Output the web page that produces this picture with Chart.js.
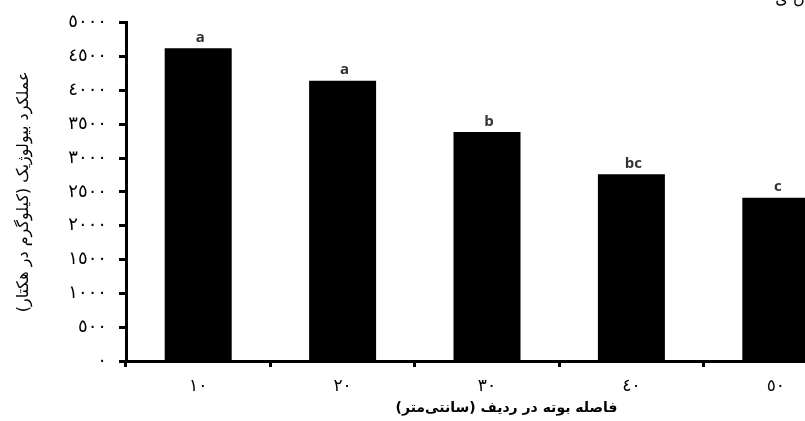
<!DOCTYPE html>
<html>
<head>
<meta charset="utf-8">
<script src="https://cdn.jsdelivr.net/npm/chart.js@4/dist/chart.umd.min.js"></script>
<style>
  html, body { margin: 0; padding: 0; background: #fff; overflow: hidden; width: 805px; height: 421px; }
  #wrap { position: absolute; left: 0; top: 0; width: 848px; height: 421px; }
</style>
</head>
<body>
<div id="wrap"><canvas id="c"></canvas></div>
<script>
// ---- data ----
const categories = ['١٠', '٢٠', '٣٠', '٤٠', '٥٠'];
const yieldValues = [4625, 4145, 3385, 2760, 2415];
const letters = ['a', 'a', 'b', 'bc', 'c'];
const yTickLabels = ['٠', '٥٠٠', '١٠٠٠', '١٥٠٠', '٢٠٠٠', '٢٥٠٠', '٣٠٠٠', '٣٥٠٠', '٤٠٠٠', '٤٥٠٠', '٥٠٠٠'];
const xTitle = '\u00A0\u00A0\u00A0\u00A0\u00A0\u00A0\u00A0\u00A0فاصله بوته در ردیف (سانتی‌متر)';
const yTitle = 'عملکرد بیولوژیک (کیلوگرم در هکتار)';
const cornerText = 'ن ی';

const letterPlugin = {
  id: 'letters',
  afterDatasetsDraw(chart) {
    const ctx = chart.ctx;
    const meta = chart.getDatasetMeta(0);
    ctx.save();
    ctx.font = 'bold 15px "Open Sans", "DejaVu Sans", sans-serif';
    ctx.fillStyle = '#333';
    ctx.textAlign = 'center';
    ctx.textBaseline = 'bottom';
    meta.data.forEach((bar, i) => {
      ctx.fillText(letters[i], bar.x + 2, bar.y - 3);
    });
    ctx.font = '16px "DejaVu Sans", sans-serif';
    ctx.fillStyle = '#000';
    ctx.textBaseline = 'middle';
    ctx.fillText(cornerText, 790, 0);
    ctx.restore();
  }
};

new Chart(document.getElementById('c'), {
  type: 'bar',
  data: {
    labels: categories,
    datasets: [{
      data: yieldValues,
      backgroundColor: '#000',
      borderWidth: 0,
      barPercentage: 0.464,
      categoryPercentage: 1.0
    }]
  },
  options: {
    responsive: true,
    maintainAspectRatio: false,
    animation: false,
    devicePixelRatio: 1,
    layout: { padding: { top: 22, left: 0, right: 0, bottom: 0 } },
    plugins: { legend: { display: false }, tooltip: { enabled: false } },
    scales: {
      x: {
        afterFit(s) { s.height = 60; },
        border: { display: true, color: '#000', width: 3 },
        grid: { display: true, offset: true, drawOnChartArea: false, drawTicks: true, tickLength: 6, tickWidth: 3, tickColor: '#000' },
        ticks: { color: '#000', font: { family: '"DejaVu Sans", sans-serif', size: 17 }, padding: 9, maxRotation: 0 },
        title: { display: true, text: xTitle, color: '#000', font: { family: '"DejaVu Sans", sans-serif', size: 14, weight: 'bold' }, padding: { top: 0, bottom: 4 } }
      },
      y: {
        min: 0, max: 5000,
        afterFit(s) { s.width = 126; },
        border: { display: true, color: '#000', width: 3 },
        grid: { display: true, drawOnChartArea: false, drawTicks: true, tickLength: 7, tickWidth: 3, tickColor: '#000' },
        ticks: {
          stepSize: 500, color: '#000', padding: 12,
          font: { family: '"DejaVu Sans", sans-serif', size: 18 },
          callback(v) { return yTickLabels[Math.round(v / 500)]; }
        },
        title: { display: true, text: yTitle, color: '#000', font: { family: '"DejaVu Sans", sans-serif', size: 16 }, padding: { top: 14, bottom: 0 } }
      }
    }
  },
  plugins: [letterPlugin]
});
</script>
</body>
</html>
